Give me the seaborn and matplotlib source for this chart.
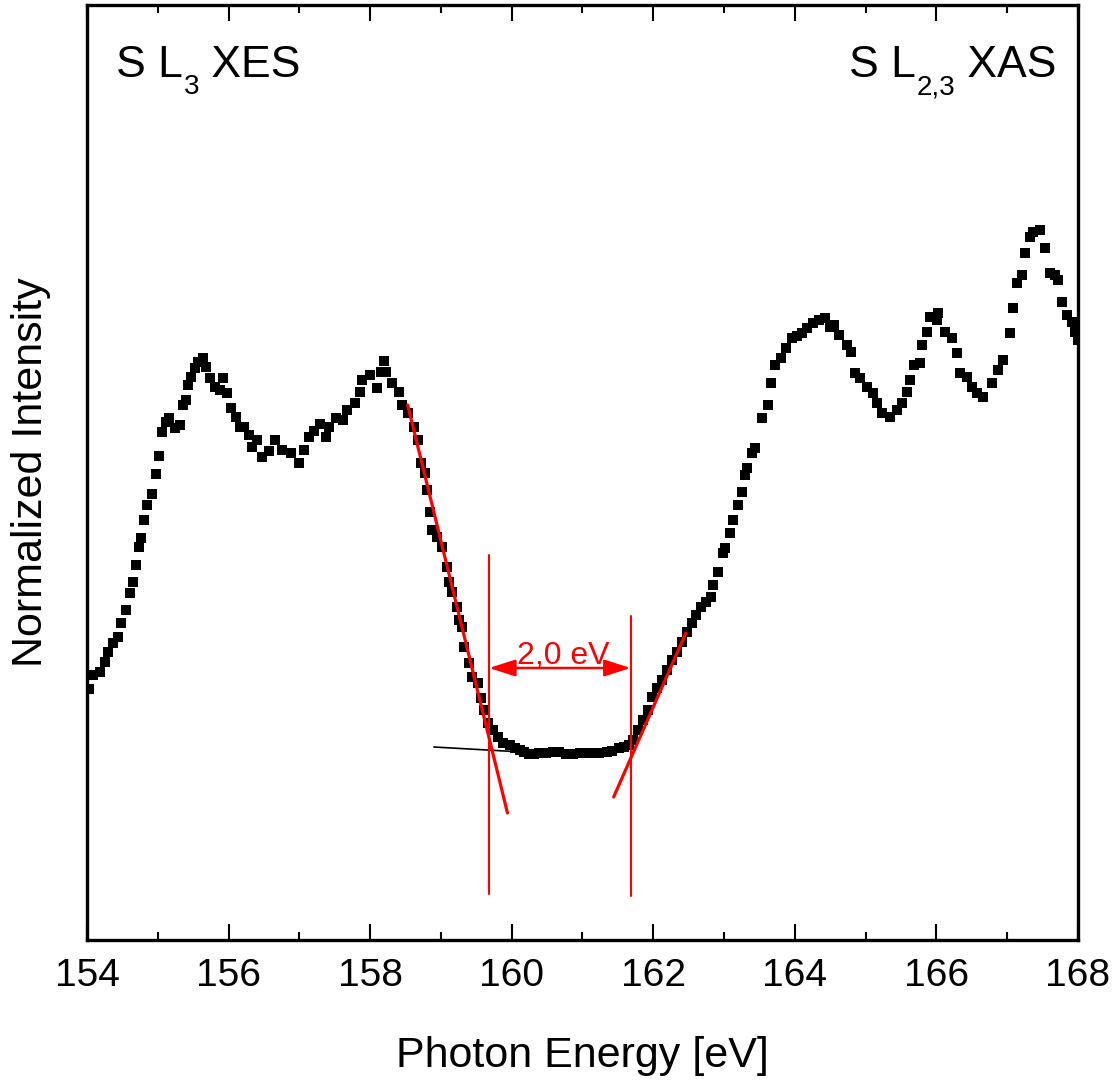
import matplotlib
matplotlib.use("Agg")
import matplotlib.pyplot as plt
from matplotlib.ticker import MultipleLocator
import seaborn as sns
import pandas as pd

# S L3 emission spectrum (XES)
energy_xes = [
    154.03, 154.08, 154.18, 154.25, 154.30, 154.37, 154.44, 154.48, 154.55, 154.61,
    154.65, 154.69, 154.74, 154.76, 154.81, 154.85, 154.92, 154.98, 155.02, 155.06,
    155.12, 155.16, 155.24, 155.32, 155.36, 155.40, 155.43, 155.47, 155.53, 155.57,
    155.64, 155.68, 155.74, 155.81, 155.88, 155.92, 155.98, 156.04, 156.11, 156.16,
    156.22, 156.29, 156.33, 156.40, 156.47, 156.57, 156.66, 156.76, 156.88, 157.00,
    157.07, 157.14, 157.21, 157.29, 157.38, 157.42, 157.52, 157.61, 157.68, 157.78,
    157.85, 157.89, 158.00, 158.10, 158.16, 158.19, 158.23, 158.31, 158.41, 158.45,
    158.53, 158.62, 158.68, 158.72, 158.77, 158.81, 158.84, 158.88, 158.95, 159.02,
    159.08, 159.12, 159.16, 159.22, 159.26, 159.30, 159.33, 159.40, 159.44, 159.52,
    159.57, 159.61, 159.66, 159.73, 159.80, 159.87, 159.97, 160.04, 160.11, 160.18,
    160.25, 160.32, 160.39, 160.49, 160.58, 160.67, 160.77, 160.86,
]
intensity_xes = [
    0.251, 0.265, 0.268, 0.278, 0.288, 0.297, 0.303, 0.317, 0.330, 0.347,
    0.358, 0.375, 0.393, 0.402, 0.420, 0.435, 0.446, 0.466, 0.484, 0.508,
    0.518, 0.522, 0.512, 0.515, 0.535, 0.540, 0.555, 0.563, 0.572, 0.578,
    0.582, 0.573, 0.562, 0.553, 0.550, 0.562, 0.547, 0.532, 0.523, 0.513,
    0.513, 0.505, 0.493, 0.500, 0.483, 0.489, 0.500, 0.490, 0.487, 0.477,
    0.490, 0.503, 0.509, 0.516, 0.503, 0.513, 0.522, 0.520, 0.530, 0.537,
    0.548, 0.560, 0.565, 0.552, 0.568, 0.579, 0.568, 0.557, 0.548, 0.535,
    0.527, 0.513, 0.500, 0.477, 0.467, 0.450, 0.428, 0.410, 0.403, 0.393,
    0.373, 0.358, 0.348, 0.333, 0.320, 0.313, 0.293, 0.277, 0.263, 0.257,
    0.242, 0.230, 0.217, 0.210, 0.203, 0.197, 0.195, 0.192, 0.190, 0.188,
    0.186, 0.186, 0.187, 0.187, 0.188, 0.188, 0.186, 0.186,
]

# S L2,3 absorption spectrum (XAS)
energy_xas = [
    160.96, 161.06, 161.14, 161.24, 161.34, 161.42, 161.52, 161.59, 161.66, 161.71,
    161.78, 161.85, 161.92, 161.98, 162.05, 162.12, 162.19, 162.26, 162.33, 162.40,
    162.47, 162.54, 162.61, 162.68, 162.75, 162.82, 162.84, 162.91, 162.98, 163.01,
    163.08, 163.12, 163.19, 163.25, 163.29, 163.33, 163.40, 163.43, 163.53, 163.62,
    163.67, 163.72, 163.81, 163.88, 163.96, 164.03, 164.10, 164.17, 164.25, 164.34,
    164.42, 164.49, 164.56, 164.63, 164.73, 164.80, 164.85, 164.92, 165.02, 165.10,
    165.16, 165.23, 165.34, 165.44, 165.51, 165.58, 165.62, 165.69, 165.77, 165.79,
    165.86, 165.91, 166.01, 166.02, 166.12, 166.22, 166.29, 166.33, 166.43, 166.50,
    166.57, 166.66, 166.78, 166.87, 166.94, 167.04, 167.08, 167.14, 167.21, 167.25,
    167.32, 167.36, 167.46, 167.53, 167.60, 167.67, 167.72, 167.77, 167.84, 167.91,
    167.96, 168.00,
]
intensity_xas = [
    0.187, 0.187, 0.187, 0.187, 0.188, 0.189, 0.192, 0.193, 0.195, 0.200,
    0.210, 0.220, 0.230, 0.243, 0.252, 0.260, 0.270, 0.280, 0.288, 0.298,
    0.308, 0.317, 0.325, 0.333, 0.338, 0.343, 0.355, 0.368, 0.387, 0.392,
    0.407, 0.420, 0.435, 0.448, 0.465, 0.472, 0.487, 0.492, 0.522, 0.535,
    0.557, 0.575, 0.582, 0.592, 0.602, 0.604, 0.607, 0.612, 0.617, 0.620,
    0.622, 0.613, 0.615, 0.605, 0.595, 0.588, 0.567, 0.562, 0.553, 0.547,
    0.537, 0.527, 0.523, 0.530, 0.537, 0.548, 0.560, 0.575, 0.577, 0.595,
    0.608, 0.623, 0.620, 0.627, 0.608, 0.602, 0.587, 0.567, 0.563, 0.553,
    0.547, 0.543, 0.557, 0.570, 0.580, 0.607, 0.632, 0.657, 0.665, 0.687,
    0.703, 0.708, 0.710, 0.692, 0.667, 0.665, 0.660, 0.638, 0.625, 0.618,
    0.608, 0.600,
]

# Linear edge fits and baseline
xes_edge_e = [158.53, 159.94]
xes_edge_i = [0.535, 0.127]
xas_edge_e = [161.44, 162.46]
xas_edge_i = [0.143, 0.307]
baseline_e = [158.90, 160.40]
baseline_i = [0.193, 0.187]

# Band-edge onsets and gap
onset_xes = 159.68
gap = 2.0
onset_xas = onset_xes + gap
onset_xes_span = [0.046, 0.385]
onset_xas_span = [0.044, 0.324]
gap_arrow_level = 0.272

x_ticks = [154, 156, 158, 160, 162, 164, 166, 168]

sns.set_style("ticks")
plt.rcParams["font.family"] = ["Liberation Sans", "DejaVu Sans"]
plt.rcParams["text.color"] = "black"
plt.rcParams["axes.labelcolor"] = "black"
plt.rcParams["xtick.color"] = "black"
plt.rcParams["xtick.labelcolor"] = "black"

spectrum = pd.concat([
    pd.DataFrame({"energy": energy_xes, "intensity": intensity_xes, "kind": "XES"}),
    pd.DataFrame({"energy": energy_xas, "intensity": intensity_xas, "kind": "XAS"}),
], ignore_index=True)

fig = plt.figure(figsize=(11.15, 10.81), dpi=100)
ax = fig.add_axes([87 / 1115, 1 - 940 / 1081, 991 / 1115, 935 / 1081])

ax.plot(baseline_e, baseline_i, color="black", lw=1.2, zorder=1)

sns.scatterplot(data=spectrum, x="energy", y="intensity", marker="s", s=46,
                color="black", linewidth=0, ax=ax, zorder=3, legend=False)

ax.plot(xes_edge_e, xes_edge_i, color="red", lw=2.3, zorder=4)
ax.plot(xas_edge_e, xas_edge_i, color="red", lw=2.3, zorder=4)
ax.plot([onset_xes, onset_xes], onset_xes_span, color="red", lw=1.5, zorder=4)
ax.plot([onset_xas, onset_xas], onset_xas_span, color="red", lw=1.5, zorder=4)

ax.annotate("", xy=(onset_xes, gap_arrow_level), xytext=(onset_xas, gap_arrow_level),
            arrowprops=dict(arrowstyle="<|-|>,head_length=1.0,head_width=0.32",
                            color="red", lw=1.8, mutation_scale=16,
                            shrinkA=0, shrinkB=0), zorder=5)
ax.text((onset_xes + onset_xas) / 2 + 0.05, gap_arrow_level + 0.004,
        f"{gap:.1f} eV".replace(".", ","), color="red", fontsize=23,
        ha="center", va="baseline", zorder=5)


def edge_label(x, y, head, sub, tail, size=32, sub_size=20):
    """Write 'head' + lowered subscript + 'tail' starting at data point (x, y)."""
    t1 = ax.text(x, y, head, fontsize=size, ha="left", va="baseline")
    t2 = ax.annotate(sub, xy=(1, 0), xycoords=t1, xytext=(0.5, -6),
                     textcoords="offset points", fontsize=sub_size,
                     ha="left", va="baseline")
    ax.annotate(tail, xy=(1, 0), xycoords=(t2, t1), xytext=(0, 0),
                textcoords="offset points", fontsize=size,
                ha="left", va="bottom")


edge_label(154.41, 0.863, "S L", "3", " XES")
edge_label(164.76, 0.863, "S L", "2,3", " XAS")

ax.set_xlim(154, 168)
ax.set_ylim(0, 0.935)
ax.set_xticks(x_ticks)
ax.xaxis.set_minor_locator(MultipleLocator(1))
ax.set_yticks([])
ax.tick_params(axis="x", which="both", direction="in", top=True, bottom=True,
               width=1.5, color="black", labelcolor="black", labelsize=28, pad=13)
ax.tick_params(axis="x", which="major", length=11.5)
ax.tick_params(axis="x", which="minor", length=6)
for side in ["left", "right", "top", "bottom"]:
    ax.spines[side].set_visible(True)
    ax.spines[side].set_linewidth(2.4)
    ax.spines[side].set_color("black")

ax.set_xlabel("Photon Energy [eV]", fontsize=31, labelpad=30)
ax.set_ylabel("Normalized Intensity", fontsize=31, labelpad=26)

fig.savefig("out.png", dpi=100)
